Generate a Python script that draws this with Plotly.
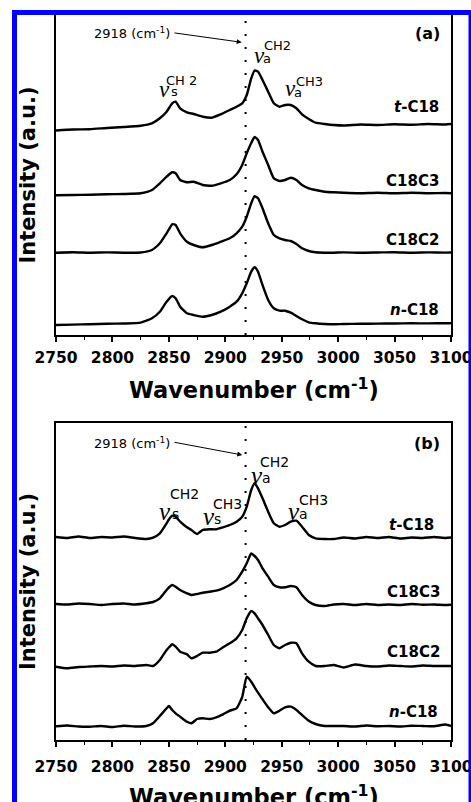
import plotly.graph_objects as go

W, H = 471, 802

# ---------------- data (arbitrary intensity units, stacked as in the figure) ----------------
wn_a = [2750, 2765, 2780, 2795, 2810, 2825, 2835, 2842, 2848, 2853, 2856, 2860, 2866, 2872, 2880,
        2888, 2896, 2904, 2910, 2915, 2919, 2923, 2926, 2929, 2933, 2938, 2943, 2948, 2953, 2958,
        2963, 2968, 2974, 2980, 2988, 2996, 3005, 3020, 3035, 3050, 3065, 3080, 3095, 3100]

a_tC18 = [204.5, 205.5, 205.8, 207, 208, 209.3, 211.7, 216.7, 223.3, 231.7, 233.3, 226.7, 222.7, 221, 218.3,
          217.3, 220.7, 225, 228.3, 231.7, 240, 256.7, 264.5, 263.3, 255, 243.3, 231.7, 228.3, 230, 230,
          226.7, 220.7, 216, 212.3, 211, 210, 209.5, 210.5, 210, 210.8, 210.3, 211, 210.5, 211]
a_C18C3 = [139.7, 140, 140.3, 140.8, 141, 141.7, 145, 151.7, 158.3, 162.7, 161.7, 155, 152.7, 153.3, 150,
           149.3, 151.7, 155, 160.7, 170, 181.7, 192, 198, 195, 183.3, 170, 156.7, 154, 155, 157.3,
           155, 150, 146.7, 145, 143.3, 142.7, 142.2, 141.8, 142.3, 141.7, 142.2, 141.8, 142, 141.7]
a_C18C2 = [82.3, 82.8, 82.3, 82.6, 82.3, 82.5, 85, 91.7, 101.7, 110.7, 110, 101.7, 93.3, 90, 87.7,
           90, 93.3, 96.7, 101.7, 108.3, 118.3, 131.7, 138.8, 136.7, 126.7, 111.7, 100, 96.7, 95, 94,
           91, 86.7, 84, 82.7, 82.3, 82.3, 82.6, 82.2, 82.5, 82.8, 82.3, 82.6, 82.4, 82.5]
a_nC18 = [10, 10.4, 10.8, 11.2, 11.5, 12.3, 16.7, 23.3, 33.3, 39, 36.7, 28.3, 21.7, 20, 18.3,
          20, 23.3, 28.3, 33.3, 41.7, 51.7, 63.3, 67.7, 63.3, 50, 35, 26.7, 24.3, 24.3, 22.3,
          19, 15.7, 12.7, 11.7, 11, 10.7, 11, 11.2, 11.4, 11.5, 11.7, 11.6, 11.8, 11.7]

wn_b = [2750, 2760, 2770, 2780, 2790, 2800, 2810, 2820, 2830, 2836, 2842, 2848, 2850, 2853, 2856,
        2860, 2866, 2870, 2875, 2880, 2886, 2892, 2898, 2904, 2910, 2915, 2919, 2923, 2926, 2929,
        2933, 2938, 2943, 2948, 2953, 2958, 2963, 2968, 2974, 2980, 2988, 2996, 3005, 3015, 3025,
        3035, 3045, 3055, 3065, 3075, 3085, 3095, 3100]

b_tC18 = [203, 202, 203.5, 202, 203, 202.5, 203.5, 202, 201, 202.3, 206.7, 216.7, 220.5, 224.3, 223.3,
          218.3, 212.7, 210, 206, 210, 210.7, 210.7, 212.7, 215, 218.3, 223.3, 233.3, 250, 256.7, 251.7,
          241.7, 228.3, 216.7, 213.3, 215, 218.3, 219.3, 213.3, 205, 201.7, 201, 201, 202.5, 201.5, 203,
          202, 203, 201.5, 202.5, 202, 203, 202, 202.5]
b_C18C3 = [136, 135.5, 136.5, 136, 135, 136, 136.5, 135.5, 136.7, 138, 141.7, 150, 152.5, 155, 153.3,
           150, 146.7, 145, 146, 147.3, 148.3, 149.3, 151.7, 155, 160, 168.3, 176.7, 186.5, 184, 180,
           171.7, 163.3, 155, 152.7, 152.7, 154, 152.7, 145, 138.3, 135, 134, 135.5, 136, 135, 136,
           135, 135.5, 135, 136, 135.3, 135.5, 135, 135.3]
b_C18C2 = [73.3, 71.7, 73, 73.5, 74, 73.5, 74.5, 74, 75, 74, 80, 90, 92.5, 95.7, 93.3,
           88.3, 85.7, 81.7, 84, 87.3, 87.3, 88.3, 92.7, 96.7, 101.7, 110, 121.7, 129, 126.7, 121.7,
           115, 105, 95, 91.7, 95, 97.3, 96.7, 86.7, 78.3, 74, 74, 75, 72.5, 75.5, 74,
           73.5, 74.5, 74, 73.5, 74.5, 74, 74, 74]
b_nC18 = [13.7, 14.5, 13.5, 13.3, 14, 13, 14.3, 13.5, 14, 16.7, 24, 31.7, 34, 30, 26.7,
          23.3, 18.3, 16.7, 21, 21.7, 21, 22.7, 25.7, 29.3, 31.7, 43, 63.3, 58.3, 52.7, 47.3,
          40.7, 32.7, 26.7, 29.3, 32.7, 33.3, 30, 25, 19.3, 16, 14, 14, 14, 13.5, 14.5,
          13.7, 14, 13.5, 14.3, 14, 13.7, 15.5, 14]

sample_names = ["<i>t</i>-C18", "C18C3", "C18C2", "<i>n</i>-C18"]
series_a = [a_tC18, a_C18C3, a_C18C2, a_nC18]
series_b = [b_tC18, b_C18C3, b_C18C2, b_nC18]
marker_wn = 2918
x_ticks = [2750, 2800, 2850, 2900, 2950, 3000, 3050, 3100]

# ---------------- helpers for pixel -> paper ----------------
def px(x):
    return x / W

def py(y):
    return 1 - y / H

fig = go.Figure()
for name, ys in zip(sample_names, series_a):
    fig.add_trace(go.Scatter(x=wn_a, y=ys, mode="lines", name=name, xaxis="x", yaxis="y",
                             line=dict(color="black", width=2.4, shape="spline", smoothing=0.5),
                             showlegend=False))
for name, ys in zip(sample_names, series_b):
    fig.add_trace(go.Scatter(x=wn_b, y=ys, mode="lines", name=name, xaxis="x2", yaxis="y2",
                             line=dict(color="black", width=2.4, shape="spline", smoothing=0.5),
                             showlegend=False))

tickfont = dict(family="DejaVu Sans", size=15.5, color="black", weight="bold")

def xax(anchor, standoff):
    return dict(domain=[px(56), px(451)], range=[2750, 3100], anchor=anchor, automargin=False,
                tickvals=x_ticks, ticks="outside", ticklen=5, tickwidth=1.5, tickcolor="black",
                minor=dict(dtick=25, tick0=2750, ticks="outside", ticklen=3, tickwidth=1.2, tickcolor="black"),
                showline=True, linewidth=2, linecolor="black", mirror=True, ticklabeloverflow="allow",
                showgrid=False, zeroline=False, tickfont=tickfont, ticklabelstandoff=standoff)

def yax(anchor, top, bottom, rng):
    return dict(domain=[py(bottom), py(top)], range=rng, anchor=anchor, automargin=False,
                showticklabels=False, ticks="", showline=True, linewidth=2, linecolor="black",
                mirror=True, showgrid=False, zeroline=False)

fig.update_layout(
    width=W, height=H, margin=dict(l=0, r=0, t=0, b=0, pad=0, autoexpand=False),
    paper_bgcolor="white", plot_bgcolor="white",
    xaxis=xax("y", 2), yaxis=yax("x", 13, 335, [0, 322]),
    xaxis2=xax("y2", 6), yaxis2=yax("x2", 423, 740, [0, 317]),
)

shapes = []
for xr, yr in (("x", "y domain"), ("x2", "y2 domain")):
    shapes.append(dict(type="line", xref=xr, yref=yr, x0=marker_wn, x1=marker_wn, y0=0, y1=1,
                       line=dict(color="black", width=2, dash="2px,11px"), layer="above"))
# blue frame
blue = "#0000ff"
shapes.append(dict(type="rect", xref="paper", yref="paper", x0=px(12), x1=px(17), y0=0, y1=py(10),
                   fillcolor=blue, line=dict(width=0), layer="above"))
shapes.append(dict(type="rect", xref="paper", yref="paper", x0=px(12), x1=1, y0=py(15), y1=py(10),
                   fillcolor=blue, line=dict(width=0), layer="above"))
shapes.append(dict(type="rect", xref="paper", yref="paper", x0=px(468.5), x1=1, y0=0, y1=py(10),
                   fillcolor=blue, line=dict(width=0), layer="above"))
fig.update_layout(shapes=shapes)

ann = []
def text(t, x, y, size, bold=False, xanchor="center", family="DejaVu Sans", angle=0, italic=False):
    f = dict(family=family, size=size, color="black")
    if bold:
        f["weight"] = "bold"
    if italic:
        f["style"] = "italic"
    ann.append(dict(text=t, xref="paper", yref="paper", x=px(x), y=py(y), xanchor=xanchor,
                    yanchor="middle", showarrow=False, font=f, textangle=angle))

# axis titles
for cy in (175, 581.5):
    text("Intensity (a.u.)", 27.5, cy, 21, bold=True, angle=-90)
text("Wavenumber (cm<sup>-1</sup>)", 254, 388, 22.5, bold=True)
text("Wavenumber (cm<sup>-1</sup>)", 254, 795, 22.5, bold=True)

# panel tags
text("(a)", 442, 33, 16, bold=True, xanchor="right")
text("(b)", 442, 443.5, 16, bold=True, xanchor="right")

# sample labels
for name, y in zip(sample_names, (107, 181, 240, 310)):
    text(name, 441, y, 15, bold=True, xanchor="right")
for name, y, xr in zip(sample_names, (525, 592, 652, 712), (436, 442, 442, 440)):
    text(name, xr, y, 15, bold=True, xanchor="right")

# 2918 marker labels with arrows
for ty, tail, head in ((33, (173, 32.7), (241.7, 42.3)), (443.5, (173, 442), (242.3, 455))):
    text("2918 (cm<sup>-1</sup>)", 172, ty, 13, xanchor="right")
    ann.append(dict(text="", xref="paper", yref="paper", x=px(head[0]), y=py(head[1]),
                    ax=tail[0] - head[0], ay=tail[1] - head[1], showarrow=True,
                    arrowhead=2, arrowsize=1, arrowwidth=1, arrowcolor="black", standoff=0))

# band assignment labels: (nu_x, nu_y, sub, sub_x, sub_y, sup, sup_x, sup_y, nu_size, small_size)
band_labels = [
    (164.5, 89, "s", 174, 92, "CH 2", 181, 80, 23, 13),
    (259, 55, "a", 266.5, 58, "CH2", 277.5, 45.5, 23, 13),
    (290, 88, "a", 298, 92.5, "CH3", 309, 82, 23, 13),
    (165, 511, "s", 175, 514, "CH2", 184.5, 494, 25, 14),
    (209, 516, "s", 217.5, 519, "CH3", 227.5, 504, 25, 14),
    (257, 475, "a", 266, 478.5, "CH2", 274, 462, 25, 14),
    (293.5, 511.5, "a", 303.5, 514, "CH3", 313.5, 500, 25, 14),
]
for nx, ny, s, sx, sy, sup, ux, uy, nsz, ssz in band_labels:
    text("ν", nx, ny, nsz, family="Liberation Serif", italic=True)
    text(s, sx, sy, ssz)
    text(sup, ux, uy, ssz)

fig.update_layout(annotations=ann)
fig.write_html("out.html")
